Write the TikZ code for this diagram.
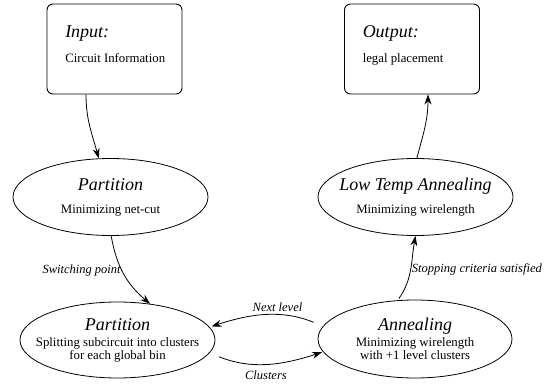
\documentclass[tikz,border=0pt]{standalone}
\usepackage{fontspec}
\setmainfont{Liberation Serif}
\usetikzlibrary{arrows.meta,positioning,shapes.geometric,calc}
\newcommand{\headfont}{\fontsize{18}{21}\selectfont\itshape}
\newcommand{\bodyfont}{\fontsize{12.8}{13}\selectfont}

\begin{document}
\begin{tikzpicture}[x=1pt, y=1pt,
  iobox/.style={draw, line width=0.9pt, rounded corners=6pt, minimum width=135pt, minimum height=90pt, inner sep=0pt},
  boxtext/.style={anchor=north west, align=left, inner sep=0pt, font=\bodyfont},
  stage/.style={draw, line width=0.8pt, ellipse, minimum width=195pt, minimum height=77pt, inner sep=0pt, align=center, font=\bodyfont},
  flow/.style={-{Stealth[length=10pt,width=7pt]}, line width=0.8pt},
  edgelabel/.style={font=\fontsize{12.5}{15}\selectfont\itshape, inner sep=1pt}
]
\useasboundingbox (0,0) rectangle (555,389);

\node[iobox] (inbox) at (114.5,340) {};
\node[boxtext] (intext) at ([xshift=18.5pt,yshift=-22pt]inbox.north west) {{\headfont Input:}\\[12pt]Circuit Information};
\node[iobox] (outbox) at (412,340) {};
\node[boxtext] (outtext) at ([xshift=18.5pt,yshift=-22pt]outbox.north west) {{\headfont Output:}\\[12pt]legal placement};

\node[stage] (part) at (110.5,192) {{\headfont Partition}\\[10pt]Minimizing net-cut};
\node[stage, inner xsep=-15pt] (lowtemp) at (415.5,192) {{\headfont Low Temp Annealing}\\[10pt]Minimizing wirelength};
\node[stage, inner xsep=-15pt, minimum height=76pt] (subpart) at (117.5,49) {{\headfont Partition}\\[3pt]Splitting subcircuit into clusters\\for each global bin};
\node[stage, minimum width=194pt, minimum height=78pt] (anneal) at (415,50) {{\headfont Annealing}\\[3pt]Minimizing wirelength\\with +1 level clusters};

% flow of the placer
\draw[flow] ([xshift=-28.5pt]inbox.south) to[out=-90, in=105] (part.107);
\draw[flow] (part.-89) to[out=-80, in=140] node[edgelabel, left, pos=0.45] {Switching point} (subpart.48);
\draw[flow, shorten <=10pt, shorten >=2pt] (anneal.172) to[out=158, in=18] node[edgelabel, above=2pt, pos=0.4] {Next level} (subpart.8);
\draw[flow, shorten <=10pt, shorten >=1pt] (subpart.-8) to[out=-22, in=198] node[edgelabel, below=6pt, pos=0.5] {Clusters} (anneal.-172);
\draw[flow, shorten <=2pt] (anneal.114) to[out=55, in=-100] node[edgelabel, right, pos=0.5] {Stopping criteria satisfied} (lowtemp.south);
\draw[flow] (lowtemp.88) to[out=75, in=-90] ([xshift=16pt]outbox.south);
\end{tikzpicture}
\end{document}
